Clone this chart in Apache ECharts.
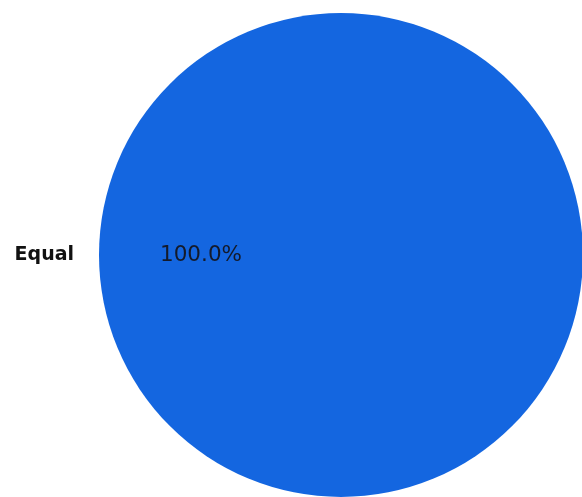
<!DOCTYPE html>
<html>
<head>
<meta charset="utf-8">
<script src="https://cdn.jsdelivr.net/npm/echarts@6/dist/echarts.min.js"></script>
<style>
  html, body { margin: 0; padding: 0; background: #ffffff; }
  #chart { width: 582px; height: 497px; }
</style>
</head>
<body>
<div id="chart"></div>
<script>
// Slice data
const categories = ['Equal'];
const values = [1];
const sliceColors = ['#1466e0'];

const pieData = categories.map((name, i) => ({
  name: name,
  value: values[i],
  itemStyle: { color: sliceColors[i] }
}));

const chart = echarts.init(document.getElementById('chart'), null, { renderer: 'canvas' });

const center = [341, 255];

chart.setOption({
  animation: false,
  backgroundColor: '#ffffff',
  series: [
    {
      // Filled pie with the category name outside
      type: 'pie',
      center: center,
      radius: [0, 242],
      startAngle: 0,
      clockwise: true,
      silent: true,
      avoidLabelOverlap: false,
      data: pieData,
      label: {
        show: true,
        position: 'outside',
        formatter: '{b}',
        fontFamily: 'DejaVu Sans',
        fontWeight: 'bold',
        fontSize: 19,
        color: '#111111'
      },
      labelLine: { show: false, length: 10, length2: 10 },
      itemStyle: { borderWidth: 0 }
    },
    {
      // Transparent overlay that places the percentage label at 0.6 of the radius
      type: 'pie',
      center: center,
      radius: [0, 274],
      startAngle: 0,
      clockwise: true,
      silent: true,
      data: categories.map((name, i) => ({ name: name, value: values[i] })),
      itemStyle: { color: 'rgba(0,0,0,0)', borderWidth: 0 },
      label: {
        show: true,
        position: 'inside',
        formatter: p => p.percent.toFixed(1) + '%',
        fontFamily: 'DejaVu Sans',
        fontSize: 21.5,
        color: '#141a2a'
      },
      labelLine: { show: false }
    }
  ]
});
</script>
</body>
</html>
